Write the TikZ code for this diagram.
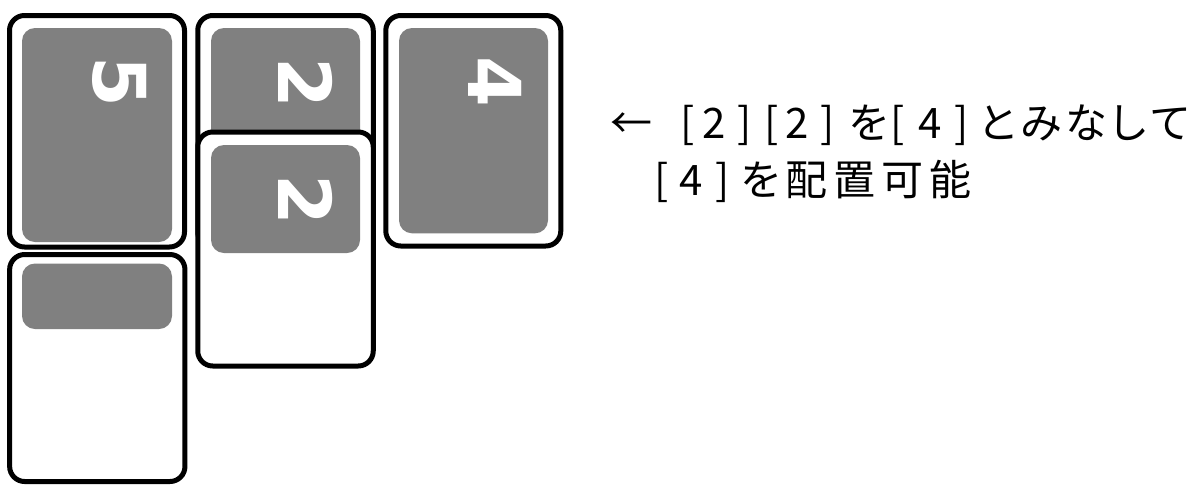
\documentclass[tikz,border=0pt]{standalone}
\usepackage{fontspec}
\newfontfamily\jpfont{Noto Sans CJK JP}
\newfontfamily\numfont{DejaVu Sans}[BoldFont={DejaVu Sans Bold}]
\definecolor{cardgray}{RGB}{128,128,128}
\newcommand{\gl}[2]{\hspace*{#1pt}\makebox[0pt][c]{#2}}
\tikzset{
  card/.style={draw=black, line width=5pt, fill=white, rounded corners=15pt, inner sep=0pt, minimum width=175pt},
  slot/.style={fill=cardgray, draw=none, rounded corners=13pt, inner sep=0pt},
  num/.style={text=white, font=\numfont\bfseries\fontsize{73}{73}\selectfont, rotate=-90, inner sep=0pt},
  label/.style={font=\jpfont\fontsize{42}{42}\selectfont, inner sep=0pt, anchor=base west}
}
\begin{document}
\begin{tikzpicture}[x=1pt,y=-1pt]
\useasboundingbox (0,0) rectangle (1198,485);
% card 1 (5)
\node[card, minimum width=175pt, minimum height=231.5pt] (c1) at (97,131.25) {};
\node[slot, minimum width=150pt, minimum height=214pt] (g1) at (97,135) {};
\node[num] (n1) at (120,82) {5};
% card 2 (2 top)
\node[card, minimum width=175.5pt, minimum height=231.5pt] (c2) at (285.5,131.25) {};
\node[slot, minimum width=149pt, minimum height=214pt] (g2) at (285.5,135) {};
\node[num] (n2) at (306,83) {2};
% card 5 (4)
\node[card, minimum width=175pt, minimum height=230.5pt] (c5) at (473.3,130.75) {};
\node[slot, minimum width=149pt, minimum height=205.3pt] (g5) at (473.5,130.65) {};
\node[num] (n5) at (495,82) {4};
% card 4 (below card 1)
\node[card, minimum width=175.3pt, minimum height=227pt] (c4) at (97.3,368) {};
\node[slot, minimum width=150pt, minimum height=65.5pt] (g4) at (97,296.25) {};
% card 3 (2 bottom)
\node[card, minimum width=175.5pt, minimum height=234pt] (c3) at (285.5,249) {};
\node[slot, minimum width=149pt, minimum height=108pt] (g3) at (285.5,199) {};
\node[num] (n3) at (306,200) {2};
% text
\node[label] (t1) at (600,138) {\gl{31}{←}\gl{56.5}{[}\gl{26}{2}\gl{30.5}{]}\gl{27}{[}\gl{25.5}{2}\gl{31}{]}\gl{41.5}{を}\gl{28}{[}\gl{33}{4}\gl{31}{]}\gl{37.5}{と}\gl{43}{み}\gl{45}{な}\gl{41.5}{し}\gl{42}{て}};
\node[label] (t2) at (600,195) {\gl{61}{[}\gl{30}{4}\gl{31}{]}\gl{39}{を}\gl{45}{配}\gl{48}{置}\gl{48}{可}\gl{48}{能}};
\end{tikzpicture}
\end{document}
